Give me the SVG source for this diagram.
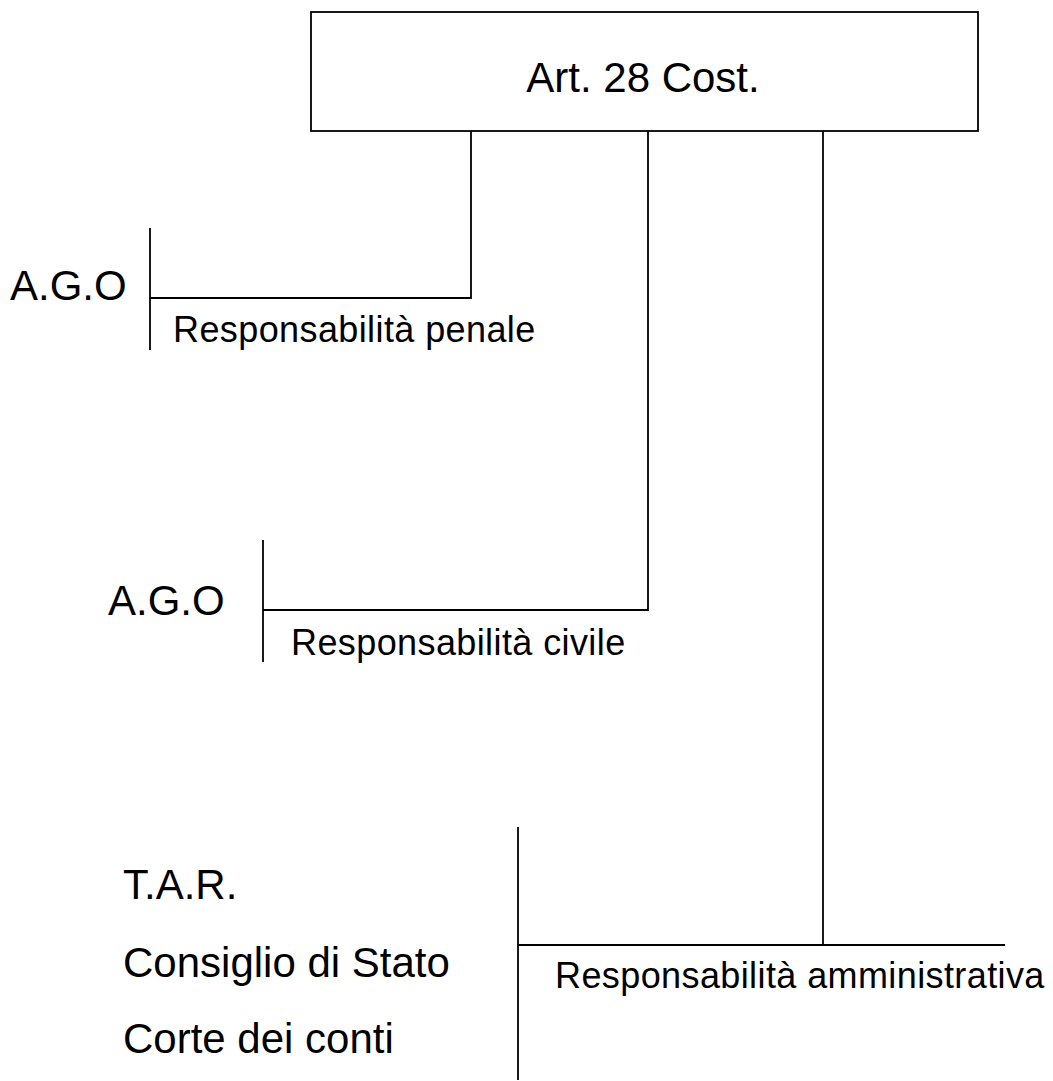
<svg xmlns="http://www.w3.org/2000/svg" width="1053" height="1081" viewBox="0 0 1053 1081">
  <style>
    .ln { stroke: #000; stroke-width: 1.8; fill: none; }
    .t { font-family: "Liberation Sans", Arial, sans-serif; fill: #000; }
    .big { font-size: 42px; }
    .lab { font-size: 36px; letter-spacing: 0.4px; }
  </style>
  <rect width="1053" height="1081" fill="#fff"/>

  <g id="art28">
    <rect class="ln" x="311" y="12" width="667" height="119"/>
    <text class="t big" x="643" y="92" text-anchor="middle">Art. 28 Cost.</text>
  </g>

  <g id="connectors">
    <polyline class="ln" points="471,131 471,298 150,298"/>
    <polyline class="ln" points="648,131 648,610 263,610"/>
    <line class="ln" x1="823" y1="131" x2="823" y2="945"/>
    <line class="ln" x1="518" y1="945" x2="1005" y2="945"/>
  </g>

  <g id="penale">
    <line class="ln" x1="150" y1="228" x2="150" y2="350"/>
    <text class="t big" x="10" y="300">A.G.O</text>
    <text class="t lab" x="173" y="342">Responsabilità penale</text>
  </g>

  <g id="civile">
    <line class="ln" x1="263" y1="540" x2="263" y2="662"/>
    <text class="t big" x="108" y="615">A.G.O</text>
    <text class="t lab" x="291" y="655">Responsabilità civile</text>
  </g>

  <g id="amministrativa">
    <line class="ln" x1="518" y1="827" x2="518" y2="1080"/>
    <text class="t lab" x="555" y="988">Responsabilità amministrativa</text>
    <text class="t big" x="123" y="899">T.A.R.</text>
    <text class="t big" x="123" y="977">Consiglio di Stato</text>
    <text class="t big" x="123" y="1053">Corte dei conti</text>
  </g>
</svg>
